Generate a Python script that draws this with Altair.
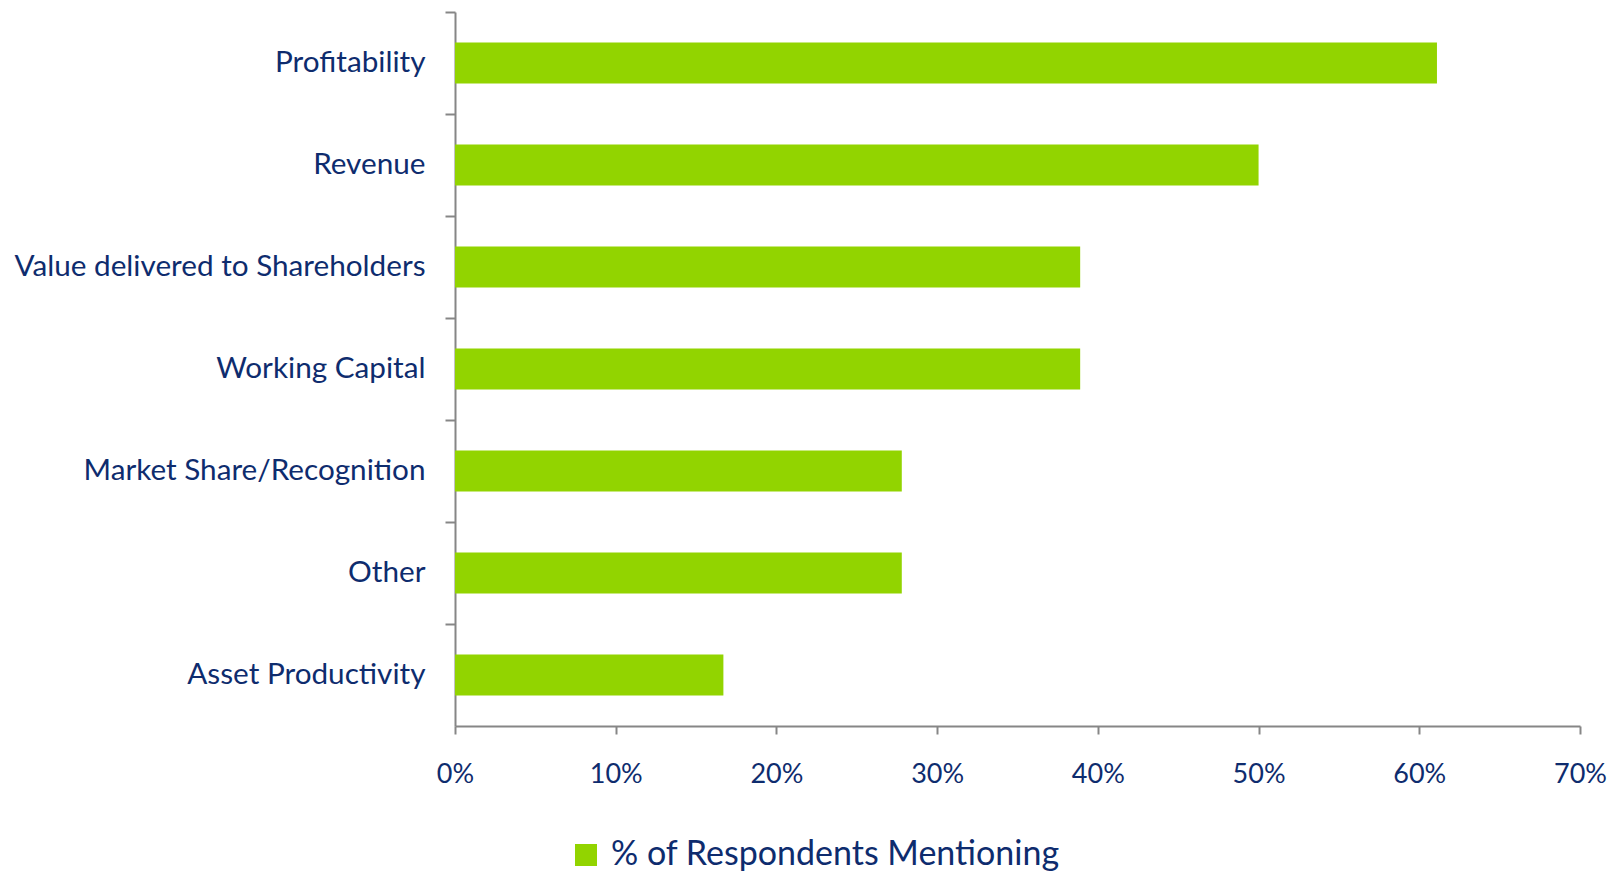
import altair as alt
import pandas as pd

categories = ["Profitability", "Revenue", "Value delivered to Shareholders",
              "Working Capital", "Market Share/Recognition", "Other", "Asset Productivity"]
values = [0.611, 0.500, 0.389, 0.389, 0.278, 0.278, 0.167]
series = "% of Respondents Mentioning"
x_ticks = [0, 0.1, 0.2, 0.3, 0.4, 0.5, 0.6, 0.7]

df = pd.DataFrame({"category": categories, "value": values, "series": series})

TEXT = "#0E2C6E"
GREEN = "#92D400"
AXIS = "#868686"
FONT = "Lato"

chart = alt.Chart(df).mark_bar(color=GREEN, height=alt.RelativeBandSize(0.4)).encode(
    y=alt.Y("category:N", sort=categories, title=None,
            scale=alt.Scale(paddingInner=0, paddingOuter=0),
            axis=alt.Axis(bandPosition=0, domainColor=AXIS, domainWidth=2,
                          tickColor=AXIS, tickWidth=2, tickSize=10,
                          labelFont=FONT, labelFontSize=29.7, labelColor=TEXT,
                          labelPadding=20, grid=False, labelBound=False, labelLimit=0)),
    x=alt.X("value:Q", title=None,
            scale=alt.Scale(domain=[0, 0.7], nice=False),
            axis=alt.Axis(values=x_ticks, format=".0%", domainColor=AXIS, domainWidth=2,
                          tickColor=AXIS, tickWidth=2, tickSize=8,
                          labelFont=FONT, labelFontSize=27, labelColor=TEXT,
                          labelPadding=27, grid=False, labelFlush=False)),
    color=alt.Color("series:N", scale=alt.Scale(range=[GREEN]),
                    legend=alt.Legend(title=None, orient="none", legendX=114, legendY=826,
                                      symbolType="square", symbolSize=484, symbolStrokeWidth=0,
                                      symbolFillColor=GREEN, symbolOpacity=1,
                                      labelFont=FONT, labelFontSize=34, labelColor=TEXT,
                                      labelOffset=8, labelLimit=0)),
).properties(
    width=1125, height=714,
    background="white",
    autosize=alt.AutoSizeParams(type="none"),
    padding={"left": 455, "top": 12, "right": 40, "bottom": 146},
).configure_view(stroke=None)

chart.save("out.html", embed_options={"renderer": "svg", "actions": False})
